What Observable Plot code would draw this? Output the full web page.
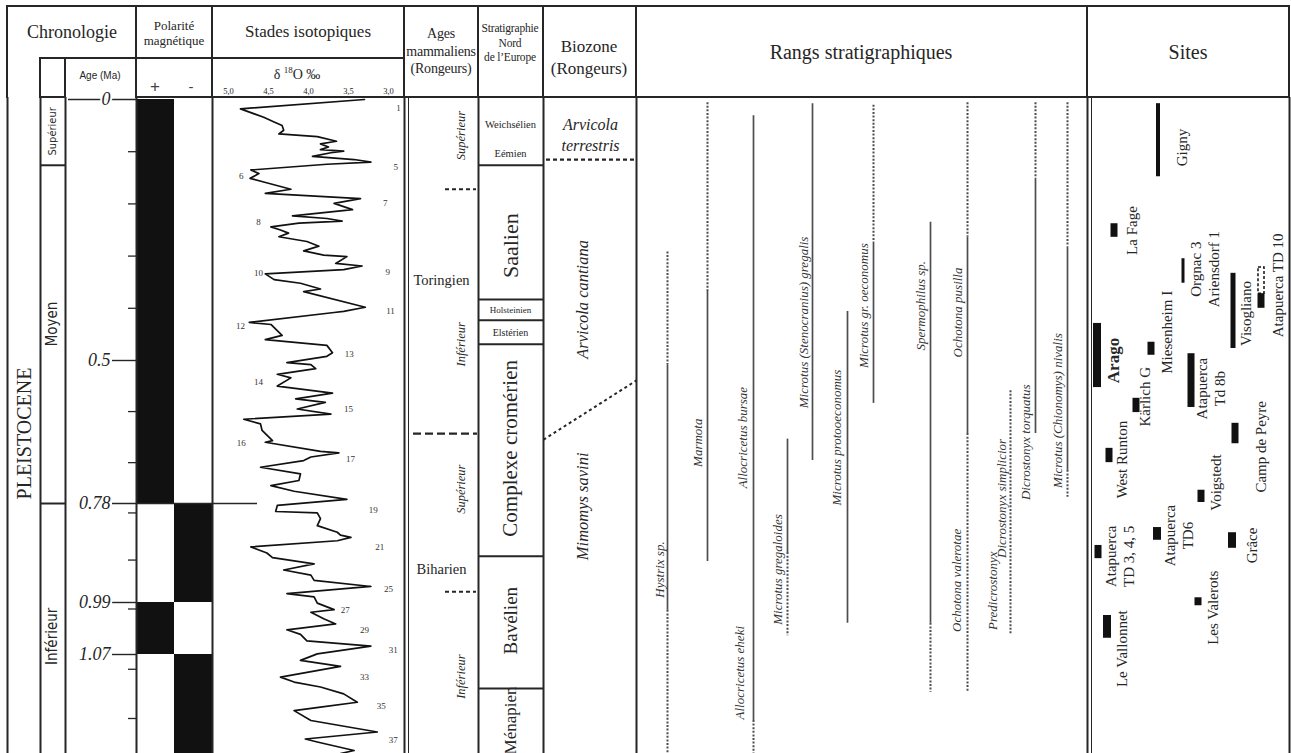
<!DOCTYPE html>
<html><head><meta charset="utf-8">
<script src="https://cdn.jsdelivr.net/npm/d3@7"></script>
<script src="https://cdn.jsdelivr.net/npm/@observablehq/plot@0.6"></script>
<style>
html,body{margin:0;padding:0;background:#fff;}
#fig{position:relative;width:1291px;height:753px;overflow:hidden;background:#fff;font-family:"Liberation Serif","Times New Roman",serif;color:#262626;}
#fig svg{position:absolute;top:0;}
</style></head>
<body><div id="fig"></div>
<script>
// ---------------- DATA ----------------
// Chronologie (ages in Ma)
const ageTickValues = [0.1, 0.2, 0.3, 0.4, 0.6, 0.7, 0.8, 0.9, 1.0, 1.1, 1.2];
const ageLabelValues = [0, 0.5, 0.78, 0.99, 1.07];
const ageLabelTexts = ["0", "0.5", "0.78", "0.99", "1.07"];
const epochName = "PLEISTOCENE";
const epochLabelAge = 0.643;
const subEpochNames = ["Supérieur", "Moyen", "Inférieur"];
const subEpochFrom = [0, 0.126, 0.78];
const subEpochLabelAge = [0.061, 0.43, 1.042];

// Polarité magnétique
const polarityFrom = [0, 0.78, 0.99, 1.07];
const polarityTo = [0.78, 0.99, 1.07, 1.27];
const polaritySign = ["+", "-", "+", "-"];

// Stades isotopiques (δ18O ‰ vs age)
const isoAge = [0.000,0.018,0.034,0.043,0.050,0.059,0.066,0.071,0.080,0.085,0.091,0.096,0.099,0.102,0.109,0.115,0.120,0.124,0.135,0.142,0.151,0.158,0.172,0.180,0.190,0.199,0.211,0.223,0.228,0.233,0.237,0.244,0.250,0.256,0.263,0.272,0.281,0.290,0.298,0.301,0.314,0.319,0.326,0.334,0.345,0.352,0.363,0.368,0.398,0.406,0.408,0.427,0.431,0.452,0.460,0.471,0.485,0.492,0.504,0.508,0.516,0.527,0.534,0.550,0.564,0.575,0.582,0.595,0.605,0.615,0.624,0.637,0.657,0.660,0.678,0.681,0.689,0.696,0.709,0.722,0.735,0.745,0.756,0.772,0.784,0.797,0.800,0.812,0.827,0.841,0.847,0.852,0.859,0.872,0.885,0.895,0.908,0.921,0.932,0.943,0.956,0.971,0.978,0.991,1.001,1.005,1.015,1.023,1.032,1.039,1.049,1.057,1.069,1.082,1.094,1.116,1.126,1.136,1.150,1.167,1.177,1.184,1.204,1.227,1.241,1.247,1.264,1.270];
const isoD18O = [3.30,4.85,4.56,4.43,4.33,4.31,4.37,3.89,3.65,3.85,3.75,3.85,3.56,3.72,3.95,3.43,3.22,3.77,4.72,4.62,4.73,4.56,4.22,4.54,3.35,3.68,3.45,4.20,3.77,3.58,4.12,4.47,4.35,4.25,4.37,4.02,3.87,4.06,3.81,3.52,3.66,3.33,3.56,4.54,4.43,4.10,3.85,4.06,3.29,3.56,3.68,4.74,4.47,4.33,4.54,3.77,3.70,3.77,4.27,3.97,3.91,4.39,4.22,4.39,3.70,4.16,3.79,4.14,3.72,4.81,4.60,4.58,4.45,4.54,3.85,3.62,3.97,4.06,4.60,4.10,4.12,4.47,4.18,3.52,4.39,4.41,3.89,3.85,3.89,3.64,3.60,3.47,3.64,4.72,4.52,4.45,3.93,4.31,3.97,3.93,3.22,4.27,3.93,3.89,3.68,3.97,3.81,3.66,4.27,4.10,4.02,3.22,3.89,4.10,3.60,4.35,4.18,3.85,3.56,3.39,3.85,4.18,3.97,3.14,4.04,3.89,3.43,3.60];
const d18OTicks = [5.0, 4.5, 4.0, 3.5, 3.0];
const stageNumbers = [1,5,6,7,8,9,10,11,12,13,14,15,16,17,19,21,25,27,29,31,33,35,37];
const stageAge = [0.017,0.130,0.147,0.198,0.235,0.330,0.332,0.405,0.435,0.487,0.543,0.596,0.661,0.694,0.793,0.873,0.962,1.001,1.033,1.064,1.115,1.174,1.244];
const stageD18O = [2.875,2.91,4.84,3.04,4.625,3.01,4.625,2.975,4.85,3.49,4.625,3.5,4.84,3.475,3.19,3.11,3.0,3.54,3.3,2.94,3.3,3.09,2.94];

// Ages mammaliens (Rongeurs)
const mammalAgeNames = ["Toringien", "Biharien"];
const mammalAgeLabelAge = [0.347, 0.920];
const mammalSubNames = ["Supérieur", "Inférieur", "Supérieur", "Inférieur"];
const mammalSubLabelAge = [0.069, 0.469, 0.752, 1.115];
const mammalBoundaryAge = [0.172, 0.643, 0.967];
const mammalBoundaryKind = ["sub", "main", "sub"];

// Stratigraphie Nord de l'Europe
const stratNames = ["Weichsélien", "Eémien", "Saalien", "Holsteinien", "Elstérien", "Complexe cromérien", "Bavélien", "Ménapien"];
const stratLabelAge = [0.048, 0.103, 0.280, 0.403, 0.446, 0.672, 1.018, 1.204];
const stratBoundaryAge = [0.126, 0.383, 0.423, 0.469, 0.892, 1.139];

// Biozones (Rongeurs)
const biozoneNames = ["Arvicola\nterrestris", "Arvicola cantiana", "Mimomys savini"];
const biozoneLabelAge = [0.065, 0.383, 0.786];
const terrestrisBaseAge = 0.115;
const cantianaBaseAgeWest = 0.655;
const cantianaBaseAgeEast = 0.539;

// Rangs stratigraphiques
const speciesSegSlot   = [0,0,0, 1,1, 2,2, 3,3, 4, 5, 6,6, 7,7, 8,8,8, 9, 10,10, 11,11,11];
const speciesSegFrom   = [0.292,0.508,1.002, 0.006,0.368, 0.031,1.204, 0.654,0.884, 0.008, 0.406, 0.011,0.273, 0.235,1.022, 0.006,0.263,0.643, 0.559, 0.006,0.151, 0.006,0.282,0.715];
const speciesSegTo     = [0.508,1.002,1.27, 0.368,0.903, 1.204,1.27, 0.884,1.041, 0.696, 1.022, 0.273,0.584, 1.022,1.147, 0.263,0.643,1.147, 1.038, 0.151,0.643, 0.282,0.715,0.768];
const speciesSegStatus = ["u","a","u", "u","a", "a","u", "a","u", "a", "a", "u","a", "a","u", "u","a","u", "u", "u","a", "u","a","u"];
const speciesLabelTexts = ["Hystrix sp.","Marmota","Allocricetus bursae","Allocricetus eheki","Microtus gregaloides","Microtus (Stenocranius) gregalis","Microtus protooeconomus","Microtus gr. oeconomus","Spermophilus sp.","Ochotona pusilla","Ochotona valerotae","Dicrostonyx simplicior","Predicrostonyx","Dicrostonyx torquatus","Microtus (Chionomys) nivalis"];
const speciesLabelAge = [0.92,0.661,0.651,1.107,0.92,0.427,0.651,0.395,0.395,0.408,0.943,0.77,0.965,0.66,0.598];

// Sites
const siteNames = ["Gigny","La Fage","Orgnac 3","Visogliano","Atapuerca TD 10","Arago","Miesenheim I","Atapuerca Td 8b","Kärlich G","Camp de Peyre","West Runton","Voigstedt","Atapuerca TD6","Grâce","Atapuerca TD 3, 4, 5","Les Valerots","Le Vallonnet"];
const siteLabels = ["Gigny","La Fage","Orgnac 3\nAriensdorf 1","Visogliano","Atapuerca TD 10","Arago","Miesenheim I","Atapuerca\nTd 8b","Kärlich G","Camp de Peyre","West Runton","Voigstedt","Atapuerca\nTD6","Grâce","Atapuerca\nTD 3, 4, 5","Les Valerots","Le Vallonnet"];
const siteFrom = [0.008,0.238,0.305,0.333,0.372,0.429,0.465,0.487,0.574,0.623,0.672,0.754,0.831,0.842,0.869,0.980,1.010];
const siteTo   = [0.148,0.264,0.352,0.477,0.400,0.553,0.490,0.592,0.602,0.663,0.700,0.778,0.858,0.875,0.897,0.995,1.045];
const siteLabelAge = [0.092,0.251,0.325,0.410,0.356,0.5,0.446,0.555,0.571,0.669,0.694,0.739,0.848,0.869,0.892,0.998,1.061];
const td10UncertainFrom = 0.322, td10UncertainTo = 0.372;

// ---------------- LAYOUT ----------------
const L = {
  W: 1291, H: 753, headerTop: 6, headerMid: 58, headerBottom: 97,
  yDomain: [0, 0.5, 0.78, 0.99, 1.07, 1.2, 1.27],
  yRange:  [99, 360, 503, 602, 654, 718, 753],
  cols: [7, 40, 65, 136, 212, 404, 478, 543, 636, 1087, 1289],
  thinCols: [408, 1091],
  subEpoch: [40, 65], epochX: 24, subEpochX: 52,
  ageLabelX: 110, ageTickX1: 128, ageMajorX1: 112, ageZeroX1: 68, ageColX2: 136, reversalX2: 257,
  pol: {"+": [136, 174], "-": [174, 212]},
  iso: [212, 404], isoInner: [228, 388],
  mammalX: 441, mammalSubX: 460, mammalDash: {sub: [445, 476], main: [413, 477]},
  strat: [478, 543], stratX: 510,
  bio: [546, 634], bioX: 590, bioRotX: 582, bioDiag: [543, 636],
  speciesX: [667, 707, 753, 787, 812, 847, 873, 930, 967, 1010, 1035, 1067],
  speciesLabelX: [659, 697, 742, 739, 777, 803, 836, 863, 920, 957, 956, 1001, 992, 1025, 1057],
  siteX: [1158,1114,1183,1233,1261,1097,1151,1191,1136,1235,1109,1201,1157,1232,1098,1198,1107],
  siteW: [4,7,3,5,7,8,7,7,7,7,7,7,8,8,7,7,8],
  siteLabelX: [1181,1131,1204,1245,1277,1113,1166,1210,1144,1260,1121,1215,1178,1251,1119,1212,1121]
};
const INK = "#262626", GREY = "#4d4d4d";
const SERIF = '"Liberation Serif","Times New Roman",serif';
const SANS = '"Liberation Sans",Arial,sans-serif';
const NARROW = '"Liberation Sans Narrow","DejaVu Sans Condensed","Liberation Sans",sans-serif';

// ---------------- TABLES ----------------
const polarity = polarityFrom.map((f, i) => ({from: f, to: polarityTo[i], sign: polaritySign[i]}));
const iso = isoAge.map((a, i) => ({age: a, d: isoD18O[i]}));
const stages = stageNumbers.map((n, i) => ({n, age: stageAge[i], d: stageD18O[i]}));
const subEpochs = subEpochNames.map((n, i) => ({name: n, age: subEpochLabelAge[i]}));
const mammalBounds = mammalBoundaryAge.map((a, i) => ({age: a, kind: mammalBoundaryKind[i]}));
const strats = stratNames.map((n, i) => ({name: n, age: stratLabelAge[i]}));
const bios = biozoneNames.map((n, i) => ({name: n, age: biozoneLabelAge[i]}));
const segs = speciesSegSlot.map((s, i) => ({slot: s, from: speciesSegFrom[i], to: speciesSegTo[i], status: speciesSegStatus[i]}));
const spLabels = speciesLabelTexts.map((t, i) => ({t, age: speciesLabelAge[i], i}));
const sites = siteNames.map((n, i) => ({name: n, label: siteLabels[i], from: siteFrom[i], to: siteTo[i], lab: siteLabelAge[i], i}));

const yOpt = {type: "linear", domain: L.yDomain, range: L.yRange, axis: null};
const stratStyle = {
  "Weichsélien": [10.5, 0], "Eémien": [10.5, 0], "Saalien": [22, -90], "Holsteinien": [9, 0],
  "Elstérien": [10, 0], "Complexe cromérien": [21, -90], "Bavélien": [19, -90], "Ménapien": [17, -90]
};

const main = Plot.plot({
  width: L.W, height: L.H,
  marginTop: L.headerBottom, marginBottom: 0, marginLeft: 0, marginRight: 0,
  x: {domain: [0, L.W], axis: null},
  y: yOpt,
  style: {background: "transparent", fontFamily: SERIF, overflow: "visible", color: INK},
  marks: [
    Plot.rect(polarity, {x1: d => L.pol[d.sign][0], x2: d => L.pol[d.sign][1], y1: "from", y2: "to", fill: "#111"}),
    Plot.ruleX(L.cols, {stroke: INK, strokeWidth: 2}),
    Plot.ruleX(L.thinCols, {stroke: INK, strokeWidth: 1}),
    Plot.ruleY(subEpochFrom.slice(1), {x1: L.subEpoch[0], x2: L.subEpoch[1], stroke: INK, strokeWidth: 2}),
    Plot.ruleY(ageTickValues, {x1: L.ageTickX1, x2: L.ageColX2, stroke: INK, strokeWidth: 1.3}),
    Plot.ruleY(ageLabelValues, {
      x1: d => d === 0 ? L.ageZeroX1 : L.ageMajorX1,
      x2: d => d === 0.78 ? L.reversalX2 : L.ageColX2,
      stroke: INK, strokeWidth: 1.4
    }),
    Plot.text(ageLabelValues, {x: L.ageLabelX, y: d => d, text: (d, i) => ageLabelTexts[i], textAnchor: "end",
      fontSize: 18, fontStyle: "italic", fill: INK, stroke: "white", strokeWidth: 4}),
    Plot.text([epochName], {x: L.epochX, y: () => epochLabelAge, text: d => d, rotate: -90, fontSize: 20, fill: INK}),
    Plot.text(subEpochs, {x: L.subEpochX, y: "age", text: "name", rotate: -90, fontFamily: NARROW,
      fontSize: d => d.name === "Supérieur" ? 11 : 15, fill: INK}),
    Plot.text(mammalAgeNames, {x: L.mammalX, y: (d, i) => mammalAgeLabelAge[i], text: d => d, fontSize: 14.5, fill: INK}),
    Plot.text(mammalSubNames, {x: L.mammalSubX, y: (d, i) => mammalSubLabelAge[i], text: d => d, rotate: -90,
      fontStyle: "italic", fontSize: 12.5, fill: INK}),
    Plot.ruleY(mammalBounds.filter(d => d.kind === "sub"), {y: "age", x1: L.mammalDash.sub[0], x2: L.mammalDash.sub[1],
      stroke: INK, strokeWidth: 2, strokeDasharray: "4,3"}),
    Plot.ruleY(mammalBounds.filter(d => d.kind === "main"), {y: "age", x1: L.mammalDash.main[0], x2: L.mammalDash.main[1],
      stroke: INK, strokeWidth: 2.2, strokeDasharray: "8,4"}),
    Plot.ruleY(stratBoundaryAge, {x1: L.strat[0], x2: L.strat[1], stroke: INK, strokeWidth: 2}),
    Plot.text(strats, {x: L.stratX, y: "age", text: "name", fontSize: d => stratStyle[d.name][0],
      rotate: d => stratStyle[d.name][1], fill: INK}),
    Plot.text(bios.slice(0, 1), {x: L.bioX, y: "age", text: "name", fontStyle: "italic", fontSize: 16, lineHeight: 1.35, fill: INK}),
    Plot.text(bios.slice(1), {x: L.bioRotX, y: "age", text: "name", fontStyle: "italic", fontSize: 16.5, rotate: -90, fill: INK}),
    Plot.ruleY([terrestrisBaseAge], {x1: L.bio[0], x2: L.bio[1], stroke: INK, strokeWidth: 2.2, strokeDasharray: "4,3"}),
    Plot.link([{w: cantianaBaseAgeWest, e: cantianaBaseAgeEast}], {x1: L.bioDiag[0], x2: L.bioDiag[1], y1: "w", y2: "e",
      stroke: INK, strokeWidth: 2, strokeDasharray: "3,3"}),
    Plot.ruleX(segs.filter(d => d.status === "a"), {x: d => L.speciesX[d.slot], y1: "from", y2: "to", stroke: GREY, strokeWidth: 1.7}),
    Plot.ruleX(segs.filter(d => d.status === "u"), {x: d => L.speciesX[d.slot], y1: "from", y2: "to", stroke: GREY, strokeWidth: 2, strokeDasharray: "2,1.6"}),
    Plot.text(spLabels, {x: d => L.speciesLabelX[d.i], y: "age", text: "t", rotate: -90, fontStyle: "italic", fontSize: 13, fill: "#333"}),
    Plot.rect(sites, {x1: d => L.siteX[d.i] - L.siteW[d.i] / 2, x2: d => L.siteX[d.i] + L.siteW[d.i] / 2, y1: "from", y2: "to", fill: "#111"}),
    Plot.rect([{from: td10UncertainFrom, to: td10UncertainTo}], {x1: L.siteX[4] - 3, x2: L.siteX[4] + 3, y1: "from", y2: "to",
      fill: "none", stroke: "#111", strokeWidth: 1.5, strokeDasharray: "3,2"}),
    Plot.text(sites.filter(d => d.name !== "Arago"), {x: d => L.siteLabelX[d.i], y: "lab", text: "label", rotate: -90,
      fontSize: 15, lineHeight: 1.15, fill: INK}),
    Plot.text(sites.filter(d => d.name === "Arago"), {x: d => L.siteLabelX[d.i], y: "lab", text: "label", rotate: -90,
      fontSize: 17, fontWeight: "bold", fill: INK})
  ]
});

const isoPlot = Plot.plot({
  width: L.iso[1] - L.iso[0], height: L.H,
  marginTop: L.headerBottom, marginBottom: 0,
  marginLeft: L.isoInner[0] - L.iso[0], marginRight: L.iso[1] - L.isoInner[1],
  x: {domain: [5.0, 3.0]},
  y: yOpt,
  style: {background: "transparent", fontFamily: SERIF, overflow: "visible", color: INK},
  marks: [
    Plot.axisX({anchor: "top", ticks: d18OTicks, tickSize: 0, tickPadding: 4, fontSize: 8.5, label: null,
      tickFormat: d => d.toFixed(1).replace(".", ",")}),
    Plot.line(iso, {x: "d", y: "age", stroke: "#111", strokeWidth: 1.7, curve: "linear"}),
    Plot.text(stages, {x: "d", y: "age", text: "n", fontSize: 9, fill: "#333"})
  ]
});

const fig = document.getElementById("fig");
main.style.left = "0px";
isoPlot.style.left = L.iso[0] + "px";
fig.appendChild(main);
fig.appendChild(isoPlot);

// ---------------- HEADER (HTML table cells) ----------------
function hline(x0, y0, x1, y1) {
  const d = document.createElement("div");
  d.style.cssText = `position:absolute;left:${Math.min(x0, x1) - 1}px;top:${Math.min(y0, y1) - 1}px;width:${Math.abs(x1 - x0) + 2}px;height:${Math.abs(y1 - y0) + 2}px;background:${INK}`;
  fig.appendChild(d);
}
function hlabel(x, y, html, css) {
  const d = document.createElement("div");
  d.innerHTML = html;
  d.style.cssText = `position:absolute;left:${x}px;top:${y}px;transform:translate(-50%,-50%);white-space:nowrap;text-align:center;color:${INK};${css}`;
  fig.appendChild(d);
}
const yTop = L.headerTop, yMid = L.headerMid, yBot = L.headerBottom;
hline(7, yTop, 1289, yTop);
hline(40, yMid, 404, yMid);
hline(40, yBot, 65, yBot);
hline(136, yBot, 1289, yBot);
[7, 136, 212, 404, 478, 543, 636, 1087, 1289].forEach(x => hline(x, yTop, x, yBot));
[40, 65].forEach(x => hline(x, yMid, x, yBot));

hlabel(72, 32, "Chronologie", "font-size:18px;");
hlabel(100, 75, "Age (Ma)", `font-family:${SANS};font-size:10px;`);
hlabel(174, 33, "Polarité<br>magnétique", "font-size:13px;line-height:15px;");
hlabel(155, 87, "+", `font-family:${SANS};font-size:17px;font-weight:300;color:#444;`);
hlabel(191, 86, "-", `font-family:${SANS};font-size:15px;color:#444;`);
hlabel(308, 32, "Stades isotopiques", "font-size:17px;");
hlabel(297, 74, "δ <sup style='font-size:9px'>18</sup>O ‰", "font-size:14px;");
hlabel(441, 51, "Ages<br>mammaliens<br>(Rongeurs)", "font-size:14px;line-height:17.5px;letter-spacing:-0.2px;");
hlabel(510, 43, "Stratigraphie<br>Nord<br>de l’Europe", "font-size:11.5px;line-height:14.5px;letter-spacing:-0.2px;");
hlabel(589, 58, "Biozone<br>(Rongeurs)", "font-size:17px;line-height:22px;");
hlabel(861, 52, "Rangs stratigraphiques", "font-size:20px;");
hlabel(1188, 52, "Sites", "font-size:20px;");
</script>
</body></html>
